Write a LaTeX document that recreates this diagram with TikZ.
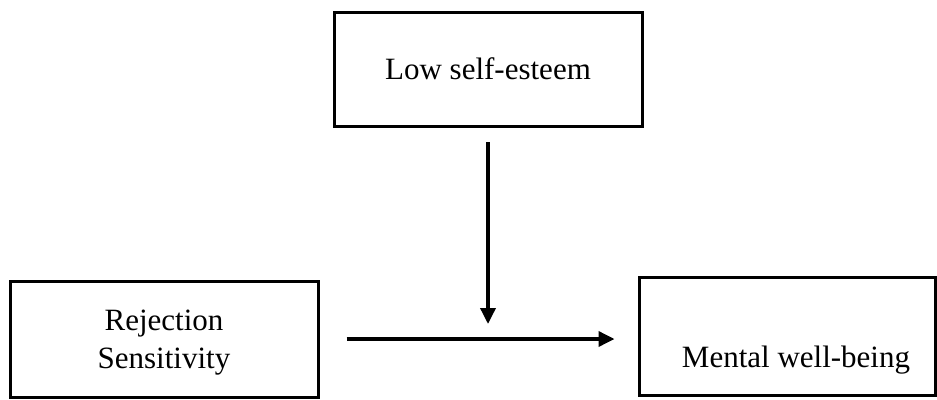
\documentclass[tikz,border=0pt]{standalone}
\usepackage{fontspec}
\setmainfont{Liberation Serif}
\usetikzlibrary{arrows.meta, positioning}

\begin{document}
\begin{tikzpicture}[x=1pt, y=-1pt,
    box/.style={draw, line width=3pt, rectangle, font=\fontsize{31}{38}\selectfont},
    link/.style={line width=3.5pt, -{Triangle[length=16pt, width=15pt]}}]
    \useasboundingbox (0,0) rectangle (937,399);

    % the three boxes
    \node[box, minimum width=308pt, minimum height=114pt] (lse) at (488,69) {Low self-esteem};
    \node[box, minimum width=308pt, minimum height=116pt, align=center, text depth=0pt] (rs) at (164,339) {Rejection\\Sensitivity};
    \node[box, minimum width=296.5pt, minimum height=118pt] (mwb) at (787.25,336) {};
    \node[font=\fontsize{31}{38}\selectfont, anchor=base] (mwbtext) at (796,367) {Mental well-being};

    % arrows
    \coordinate (meet) at (lse.south |- rs.east);
    \draw[link, shorten <=27pt, shorten >=23pt] (rs.east) -- (rs.east -| mwb.west);
    \draw[link, shorten <=14.5pt, shorten >=15pt] (lse.south) -- (meet);
\end{tikzpicture}
\end{document}
